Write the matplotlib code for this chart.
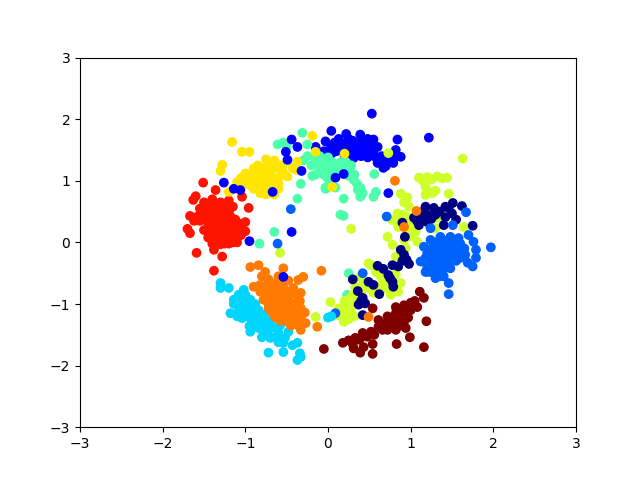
import numpy as np
import matplotlib
matplotlib.use("Agg")
import matplotlib.pyplot as plt

# (x, y), one list per cluster, label = jet colour index
navy = [(1.18,0.58),(1.28,0.56),(1.42,0.58),(1.51,0.64),(1.62,0.59),(1.75,0.27),(0.93,0.09),(1.04,0.4),(1.1,0.28),
        (1.2,0.45),(1.2,0.33),(1.3,0.45),(1.42,0.41),(1.4,0.28),(1.55,0.37),(1.46,0.56),(0.9,0.32),(0.88,-0.12),
        (0.92,-0.2),(0.98,-0.35),(0.85,-0.39),(0.78,-0.37),(0.73,-0.53),(0.78,-0.64),(0.79,-0.72),(0.6,-0.38),
        (0.67,-0.43),(0.3,-0.6),(0.49,-0.64),(0.55,-0.69),(0.62,-0.84),(0.36,-0.79),(0.42,-0.9),(0.37,-1.01),
        (0.45,-0.99),(0.42,-1.18),(1.12,0.38),(1.15,0.5),(1.25,0.38),(1.35,0.5),(1.5,0.47),(1.08,0.34),(0.9,-0.3),(0.75,-0.58),
        (0.4,-0.95),(0.95,-0.28)]
blue = [(-0.05,1.48),(-0.15,1.55),(-0.03,1.64),(0.04,1.55),(0.13,1.68),(0.22,1.76),(0.3,1.65),(0.39,1.75),(0.47,1.62),
        (0.55,1.67),(0.6,1.55),(0.05,1.45),(0.15,1.5),(0.25,1.55),(0.35,1.5),(0.45,1.5),(0.55,1.45),(0.65,1.4),
        (0.31,1.37),(0.4,1.4),(0.48,1.38),(0.6,1.29),(0.67,1.21),(0.79,1.29),(0.88,1.39),(0.82,1.5),(0.72,1.32),
        (0.08,1.62),(0.18,1.6),(0.28,1.6),(0.38,1.62),(0.5,1.55),(0.1,1.48),(0.2,1.42),(0.3,1.45),(0.42,1.45),(0.52,1.52),
        (0.58,1.38),(0.65,1.3),(0.74,1.42),(0.02,1.5),(0.25,1.68),(0.48,1.68),(0.36,1.56),(0.7,1.24),(0.82,1.4)]
azure = [(1.16,-0.07),(1.12,-0.31),(1.24,0.04),(1.36,0.09),(1.48,0.09),(1.58,0.07),(1.7,0.12),(1.76,0.01),(1.79,-0.12),
         (1.79,-0.25),(1.69,-0.33),(1.75,-0.39),(1.25,-0.1),(1.35,-0.05),(1.45,-0.02),(1.55,-0.03),(1.65,-0.1),
         (1.25,-0.25),(1.35,-0.2),(1.45,-0.15),(1.55,-0.15),(1.6,-0.25),(1.2,-0.4),(1.3,-0.38),(1.4,-0.33),(1.5,-0.3),
         (1.28,-0.5),(1.38,-0.48),(1.48,-0.42),(1.25,-0.35),(1.18,-0.48),(1.3,-0.58),(1.4,-0.55),(1.51,0.28),(1.24,0.23),
         (1.67,0.49),(1.97,-0.08),(1.46,-0.66),(1.46,-0.84),(0.71,0.42),(0.42,-0.5),(0.09,-1.15),
         (1.3,0.0),(1.4,0.03),(1.5,0.03),(1.6,-0.02),(1.2,-0.17),(1.3,-0.15),(1.4,-0.1),(1.5,-0.08),(1.6,-0.12),(1.18,-0.25),
         (1.3,-0.3),(1.4,-0.25),(1.5,-0.22),(1.22,-0.48),(1.35,-0.42),(1.45,-0.38),(1.55,-0.3),(1.35,-0.55),(1.28,-0.42),(1.66,-0.2)]
cyan = [(-1.3,-0.66),(-1.3,-0.74),(-1.2,-0.74),(-1.18,-1.15),(-1.02,-0.77),(-1.14,-0.93),(-1.04,-0.93),(-0.94,-0.93),
        (-1.14,-1.0),(-1.04,-1.05),(-0.94,-1.07),(-0.84,-1.1),(-1.04,-1.23),(-0.94,-1.23),(-0.84,-1.23),(-0.73,-1.31),
        (-0.94,-1.45),(-0.84,-1.39),(-0.73,-1.45),(-0.8,-1.54),(-0.64,-1.39),(-0.64,-1.54),(-0.72,-1.79),(-0.54,-1.78),
        (-0.54,-1.63),(-0.48,-1.45),(-0.52,-1.55),(-0.37,-1.63),(-0.43,-1.67),(-0.34,-1.8),(-0.37,-1.91),(-0.33,-1.86),
        (0.04,-1.2),(0.0,-1.22),(-1.08,-0.85),(-1.0,-0.85),(-0.98,-1.0),(-1.08,-1.12),(-1.0,-1.15),(-0.9,-1.15),(-0.78,-1.18),
        (-0.9,-1.32),(-0.8,-1.3),(-0.68,-1.25),(-0.95,-1.36),(-0.78,-1.45),(-0.7,-1.55),(-0.6,-1.47),(-0.6,-1.62),(-0.88,-1.0),
        (-1.1,-1.2),(-0.58,-1.35),(-0.7,-1.38)]
aqua = [(-0.31,1.78),(-0.61,1.59),(-0.54,1.62),(-0.25,1.59),(-0.33,0.95),(-0.37,0.71),(-0.65,0.17),(-0.83,-0.02),
        (-0.03,0.87),(0.15,0.45),(0.19,0.71),(0.19,0.43),(0.56,1.11),(0.55,0.74),(0.58,0.82),(0.39,0.74),(0.36,0.85),
        (0.31,1.02),(0.39,0.89),(0.27,1.15),(-0.03,0.89),(0.09,0.89),(-0.01,1.05),(-0.25,1.4),(-0.15,1.35),(-0.05,1.3),
        (0.05,1.3),(0.15,1.3),(-0.2,1.25),(-0.1,1.2),(0.0,1.2),(0.1,1.2),(0.2,1.2),(-0.05,1.1),(0.05,1.1),(0.15,1.15),
        (-0.15,1.1),(-0.19,1.08),(0.28,1.25),(0.25,-0.5),(0.23,-0.85),(-0.3,1.33),(-0.1,1.4),(0.0,1.38),(0.1,1.25),
        (-0.15,1.28),(0.05,1.17),(0.22,1.3),(0.32,1.1),(0.35,0.95),(0.42,0.8),(0.02,0.98),(0.25,1.08),(-0.5,1.55)]
lime = [(1.1,1.05),(1.2,1.06),(1.32,1.07),(1.44,1.05),(1.18,0.9),(1.26,0.8),(1.18,0.77),(1.46,0.79),(1.63,1.36),(0.88,0.79),
        (0.96,0.73),(0.98,0.58),(0.84,0.47),(0.78,0.36),(0.9,0.45),(0.72,0.09),(0.78,-0.04),(0.94,-0.09),(1.06,0.17),
        (1.08,0.01),(1.3,0.23),(1.33,0.4),(1.64,0.25),(0.28,0.22),(1.0,0.32),(0.82,-0.23),(0.49,-0.34),(0.58,-0.39),
        (0.92,0.04),(0.52,-0.37),(0.58,-0.48),(0.64,-0.56),(0.88,-0.66),(0.43,-0.66),(0.33,-0.72),(0.55,-0.82),(0.76,-0.85),
        (0.25,-0.93),(0.19,-1.05),(0.27,-1.1),(0.19,-1.29),(0.03,-0.97),(0.39,-0.56),(0.3,-0.85),(0.21,-1.18),(0.13,-1.07),
        (-0.58,-0.17),(-0.15,-1.21),(0.73,1.45),(1.15,1.0),(1.25,1.02),(1.38,1.04),(1.2,0.84),(1.3,0.84),(0.92,0.65),(0.85,0.38),
        (0.95,0.42),(1.02,0.22),(0.95,0.2),(0.85,0.25),(1.0,0.1),(0.68,-0.6),(0.75,-0.72),(0.62,-0.72),(0.5,-0.75),(0.38,-0.88),
        (0.3,-0.98),(0.2,-0.95),(0.32,-1.2),(0.12,-1.18),(0.25,-1.25),(0.7,-0.75),(0.85,-0.8),(0.42,-0.76),(0.82,-0.52)]
yellow = [(-1.16,1.63),(-1.04,1.47),(-0.95,1.47),(-1.28,1.26),(-1.3,1.16),(-1.2,0.82),(-0.49,1.07),(-0.43,1.21),(-0.37,1.31),
          (-0.39,1.18),(-0.15,1.47),(-0.19,1.73),(-0.75,1.35),(-0.65,1.33),(-0.55,1.25),(-0.85,1.25),(-0.75,1.22),(-0.65,1.2),
          (-0.55,1.15),(-1.0,1.12),(-0.9,1.12),(-0.8,1.1),(-0.7,1.1),(-0.6,1.05),(-1.1,0.98),(-1.0,0.98),(-0.9,1.0),(-0.8,0.98),
          (-0.7,0.98),(-0.6,0.95),(-0.9,0.87),(-0.8,0.85),(-0.7,0.85),(-0.6,0.87),(-0.75,0.78),(-0.65,0.78),(-0.7,1.28),(-0.8,1.18),
          (-0.6,1.25),(-0.72,1.16),(-0.95,1.05),(-0.85,1.05),(-0.75,1.04),(-0.65,1.0),(-1.05,1.05),(-0.85,0.93),(-0.75,0.92),
          (-0.65,0.92),(-0.95,0.93),(-0.7,0.8),(-0.9,1.2),(-0.82,0.8)]
orange = [(-0.94,-0.4),(-0.84,-0.37),(-0.76,-0.48),(-0.8,-0.55),(-0.54,-0.42),(-0.08,-0.46),(-0.3,-0.56),(-0.36,-0.61),
          (-0.9,-0.72),(-0.82,-0.69),(-0.72,-0.66),(-0.61,-0.64),(-0.82,-0.8),(-0.72,-0.8),(-0.61,-0.8),(-0.52,-0.77),
          (-0.42,-0.74),(-0.33,-0.82),(-0.78,-0.93),(-0.67,-0.93),(-0.58,-0.93),(-0.48,-0.93),(-0.37,-0.97),(-0.72,-1.07),
          (-0.61,-1.07),(-0.52,-1.07),(-0.42,-1.07),(-0.33,-1.07),(-0.64,-1.21),(-0.54,-1.21),(-0.43,-1.21),(-0.33,-1.21),
          (-0.49,-1.29),(-0.39,-1.29),(-0.27,-1.31),(-0.33,-1.42),(-0.13,-1.37),(-0.55,-0.7),(-0.48,-0.62),(-0.67,-0.72),
          (-0.77,-0.73),(-0.76,-0.86),(-0.66,-0.86),(-0.56,-0.86),(-0.46,-0.84),(-0.38,-0.85),(-0.72,-1.0),(-0.62,-1.0),
          (-0.52,-1.0),(-0.42,-1.0),(-0.34,-0.95),(-0.67,-1.14),(-0.57,-1.14),(-0.47,-1.14),(-0.37,-1.14),(-0.28,-1.14),
          (-0.58,-1.27),(-0.45,-1.35),(-0.36,-1.35),(-0.72,-0.6),(-0.6,-0.55)]
red = [(-1.51,0.97),(-1.36,0.85),(-1.63,0.69),(-1.6,0.75),(-1.04,0.74),(-0.96,0.56),(-1.7,0.22),(-1.67,0.15),(-1.59,-0.17),
       (-1.38,-0.12),(-1.28,-0.23),(-1.38,-0.46),(-1.5,0.65),(-1.4,0.7),(-1.3,0.65),(-1.2,0.68),(-1.55,0.55),(-1.45,0.55),
       (-1.35,0.55),(-1.25,0.55),(-1.15,0.58),(-1.58,0.42),(-1.48,0.45),(-1.38,0.42),(-1.28,0.45),(-1.18,0.42),(-1.67,0.43),
       (-1.55,0.35),(-1.45,0.32),(-1.35,0.3),(-1.25,0.32),(-1.15,0.3),(-1.05,0.3),(-1.0,0.33),(-1.5,0.2),(-1.4,0.18),(-1.3,0.2),
       (-1.2,0.18),(-1.1,0.2),(-1.0,0.18),(-1.45,0.08),(-1.35,0.05),(-1.25,0.08),(-1.15,0.05),(-1.05,0.12),(-1.4,-0.02),
       (-1.3,-0.03),(-1.2,-0.02),(-1.1,0.0),(-1.45,0.62),(-1.35,0.62),(-1.25,0.62),(-1.5,0.5),(-1.4,0.48),(-1.3,0.5),(-1.2,0.5),
       (-1.52,0.38),(-1.42,0.38),(-1.32,0.37),(-1.22,0.37),(-1.12,0.37),(-1.62,0.35),(-1.45,0.25),(-1.35,0.24),(-1.25,0.25),
       (-1.15,0.25),(-1.05,0.24),(-1.4,0.12),(-1.3,0.12),(-1.2,0.12),(-1.1,0.1),(-1.35,-0.02),(-1.25,-0.02),(-1.15,0.0)]
darkred = [(1.11,-0.8),(1.16,-0.9),(1.19,-1.28),(1.16,-1.7),(0.83,-1.65),(0.99,-1.54),(0.54,-1.81),(0.39,-1.79),(0.54,-1.65),
           (0.18,-1.63),(-0.05,-1.73),(0.54,-1.07),(0.31,-1.72),(0.25,-1.59),(0.33,-1.55),(0.42,-1.47),(0.52,-1.45),(0.61,-1.37),
           (0.61,-1.26),(0.72,-1.29),(0.72,-1.42),(0.82,-1.42),(0.82,-1.29),(0.92,-1.29),(0.94,-1.39),(0.82,-1.15),(0.92,-1.15),
           (1.0,-1.1),(0.82,-1.05),(0.92,-1.02),(1.08,-1.05),(1.0,-0.98),(0.38,-1.58),(0.47,-1.53),(0.56,-1.5),(0.66,-1.33),
           (0.77,-1.36),(0.87,-1.35),(0.77,-1.22),(0.87,-1.22),(0.97,-1.22),(0.87,-1.08),(0.97,-1.05),(1.05,-0.95),(0.3,-1.65),
           (0.43,-1.7),(0.72,-1.2),(0.66,-1.42)]

# stragglers that sit on top of the other clusters
top_blue = [(0.53,2.09),(1.22,1.7),(0.04,1.81),(0.84,1.67),(0.73,0.8),(0.19,1.11),(0.09,1.05),(-0.44,1.67),(-0.51,1.47),(-0.37,1.55),
            (-0.49,1.34),(-0.32,1.16),(-1.26,0.97),(-1.06,0.85),(-1.14,0.87),(-0.67,0.82),(-0.44,0.17),(-0.95,0.02),(-0.54,-0.56)]
top_azure = [(-0.45,0.54),(-0.61,-0.02)]
top_yellow = [(0.2,1.44),(0.05,0.9)]
top_orange = [(0.81,1.0),(0.92,0.25),(1.07,0.51),(0.49,-1.21)]

# lime sits a bit past 5 on the jet scale, the reference is yellower there
layers = [(blue,1),(aqua,4),(lime,5.4),(navy,0),(azure,2),(cyan,3),(orange,7),(red,8),(yellow,6),(darkred,9),
          (top_blue,1),(top_azure,2),(top_yellow,6),(top_orange,7)]

fig, ax = plt.subplots()
for pts, label in layers:
    pts = np.array(pts)
    ax.scatter(pts[:,0], pts[:,1], c=[label]*len(pts), cmap='jet', vmin=0, vmax=9)

ax.set_xlim(-3, 3)
ax.set_ylim(-3, 3)
fig.savefig('out.png', dpi=100)
